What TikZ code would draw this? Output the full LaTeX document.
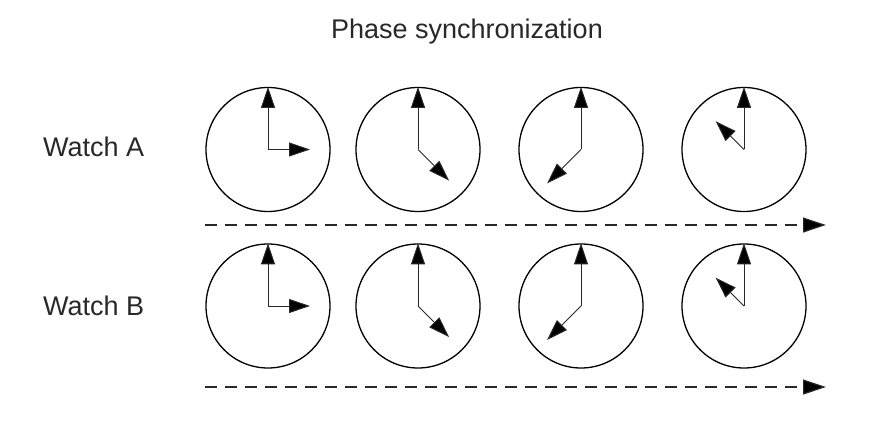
\documentclass[tikz,border=0pt]{standalone}
\usepackage{fontspec}
\setmainfont{Liberation Sans}
\usetikzlibrary{arrows.meta}
\definecolor{ink}{RGB}{40,40,40}

\begin{document}
\begin{tikzpicture}[x=1pt,y=1pt,
  watch/.style={draw=black,line width=1.3pt,circle,minimum size=124pt,inner sep=0pt},
  hand/.style={draw=ink,line width=1pt,-{Triangle[length=21pt,width=14pt,fill=black]}},
  timeline/.style={draw=ink,line width=1.2pt,dash pattern=on 12pt off 8pt,-{Triangle[length=23pt,width=15pt,fill=black]}},
  label/.style={inner sep=0pt,text=ink,font=\fontsize{27}{32}\selectfont}]
\useasboundingbox (0,0) rectangle (880,421);
\node[label,anchor=base] (title) at (467,382) {Phase synchronization};
\node[label,anchor=base west] (nameA) at (43,264) {Watch A};
\node[label,anchor=base west] (nameB) at (43,106) {Watch B};
% watch A
\node[watch] (a1) at (268,271.5) {};
\node[watch] (a2) at (418,271.5) {};
\node[watch] (a3) at (581,271.5) {};
\node[watch] (a4) at (744,271.5) {};
\draw[hand] (a1.center) -- (a1.north);
\draw[hand] (a1.center) -- ([shift={(0:42)}]a1.center);
\draw[hand] (a2.center) -- (a2.north);
\draw[hand] (a2.center) -- ([shift={(-45:44)}]a2.center);
\draw[hand] (a3.center) -- (a3.north);
\draw[hand] (a3.center) -- ([shift={(-135:48)}]a3.center);
\draw[hand] (a4.center) -- (a4.north);
\draw[hand] (a4.center) -- ([shift={(135:40)}]a4.center);
\coordinate (tA0) at (205,196);
\coordinate (tA1) at (826,196);
\draw[timeline] (tA0) -- (tA1);
% watch B
\node[watch] (b1) at (268,115) {};
\node[watch] (b2) at (418,115) {};
\node[watch] (b3) at (581,115) {};
\node[watch] (b4) at (744,115) {};
\draw[hand] (b1.center) -- (b1.north);
\draw[hand] (b1.center) -- ([shift={(0:42)}]b1.center);
\draw[hand] (b2.center) -- (b2.north);
\draw[hand] (b2.center) -- ([shift={(-45:44)}]b2.center);
\draw[hand] (b3.center) -- (b3.north);
\draw[hand] (b3.center) -- ([shift={(-135:48)}]b3.center);
\draw[hand] (b4.center) -- (b4.north);
\draw[hand] (b4.center) -- ([shift={(135:40)}]b4.center);
\coordinate (tB0) at (205,34);
\coordinate (tB1) at (826,34);
\draw[timeline] (tB0) -- (tB1);
\end{tikzpicture}
\end{document}
